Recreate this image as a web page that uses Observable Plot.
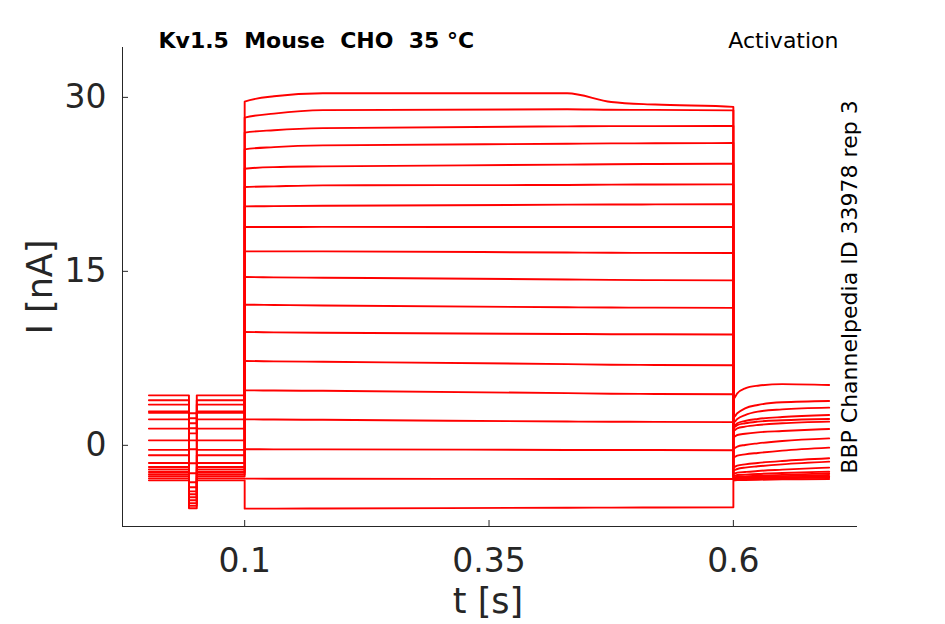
<!DOCTYPE html>
<html>
<head>
<meta charset="utf-8">
<script src="https://cdn.jsdelivr.net/npm/d3@7"></script>
<script src="https://cdn.jsdelivr.net/npm/@observablehq/plot@0.6"></script>
<style>
  body { margin: 0; background: #fff; }
  #chart { width: 945px; height: 624px; }
</style>
</head>
<body>
<div id="chart"></div>
<script>
// current traces (nA), one value per sweep (18 sweeps, highest step first)
// holding current and the short negative test pulse, 0 - 0.1 s
const hold  = [4.31, 3.88, 3.51, 2.93, 2.8, 2.24, 1.44, 0.43, -0.39, -0.86, -1.53, -1.87, -2.09, -2.3, -2.5, -2.67, -2.85, -3.02];
const pulse = [2.76, 2.33, 1.9, 1.47, 1.03, 0.43, -0.34, -1.55, -2.41, -3.19, -3.62, -3.97, -4.22, -4.48, -4.74, -5.0, -5.22, -5.43];

// activation step, 0.1 - 0.6 s
const step100 = [29.63, 28.25, 26.96, 25.52, 23.85, 22.27, 20.6, 18.82, 16.72, 14.51, 12.13, 9.77, 7.27, 4.74, 2.24, -0.34, -2.87, -5.46];
const step130 = [30.1, 28.6, 27.17, 25.71, 23.99, 22.33, 20.62, 18.82, 16.72, 14.48, 12.1, 9.74, 7.24, 4.72, 2.22, -0.35, -2.88, -5.46];
const step180 = [30.35, 28.9, 27.35, 25.86, 24.05, 22.41, 20.65, 18.83, 16.72, 14.45, 12.05, 9.7, 7.2, 4.7, 2.2, -0.35, -2.88, -5.45];
const step430 = [30.35, 28.97, 27.5, 26.0, 24.2, 22.45, 20.75, 18.82, 16.62, 14.3, 11.9, 9.6, 7.0, 4.5, 2.05, -0.4, -2.9, -5.38];
const step475 = [29.6, 28.93, 27.52, 26.03, 24.24, 22.48, 20.76, 18.82, 16.6, 14.26, 11.88, 9.58, 6.95, 4.45, 2.03, -0.41, -2.9, -5.37];
const step520 = [29.38, 28.92, 27.52, 26.04, 24.26, 22.49, 20.77, 18.82, 16.59, 14.24, 11.87, 9.57, 6.93, 4.43, 2.02, -0.41, -2.9, -5.36];
const step600 = [29.18, 28.88, 27.53, 26.06, 24.28, 22.5, 20.78, 18.82, 16.58, 14.22, 11.85, 9.55, 6.9, 4.4, 2.0, -0.42, -2.9, -5.35];

// tail currents, 0.6 - 0.7 s
const tail600 = [4.0, 2.4, 1.95, 1.65, 1.5, 1.25, 0.7, -0.3, -1.05, -1.9, -2.15, -2.45, -2.65, -2.78, -2.84, -2.9, -2.95, -3.05];
const tail604 = [4.48, 2.76, 2.27, 1.9, 1.75, 1.47, 0.89, -0.11, -0.89, -1.75, -2.04, -2.36, -2.56, -2.7, -2.78, -2.84, -2.9, -3.0];
const tail612 = [4.91, 3.19, 2.61, 2.1, 1.9, 1.61, 1.0, 0.03, -0.78, -1.64, -1.92, -2.3, -2.53, -2.68, -2.76, -2.83, -2.89, -2.99];
const tail625 = [5.14, 3.48, 2.9, 2.27, 2.04, 1.75, 1.12, 0.17, -0.66, -1.52, -1.81, -2.21, -2.47, -2.63, -2.72, -2.8, -2.87, -2.97];
const tail650 = [5.28, 3.71, 3.1, 2.44, 2.16, 1.9, 1.23, 0.37, -0.46, -1.35, -1.64, -2.1, -2.39, -2.55, -2.66, -2.76, -2.84, -2.94];
const tail698 = [5.2, 3.82, 3.25, 2.61, 2.27, 2.04, 1.41, 0.6, -0.2, -1.12, -1.41, -1.92, -2.27, -2.41, -2.56, -2.7, -2.79, -2.9];

// time (s) of each knot, and which current list belongs to it
const knotT = [0.002, 0.043, 0.043, 0.051, 0.051, 0.1, 0.1, 0.13, 0.18, 0.43, 0.475, 0.52, 0.6, 0.6, 0.604, 0.612, 0.625, 0.65, 0.698];
const knotI = [hold, hold, pulse, pulse, hold, hold, step100, step130, step180, step430, step475, step520, step600, tail600, tail604, tail612, tail625, tail650, tail698];

const xTicks = [0.1, 0.35, 0.6];
const yTicks = [0, 15, 30];
const xDomain = [-0.025, 0.727];
const yDomain = [-7, 34.3];

const title = "Kv1.5  Mouse  CHO  35 °C";
const protocol = "Activation";
const source = "BBP Channelpedia ID 33978 rep 3";
const xLabel = "t [s]";
const yLabel = "I [nA]";

const rows = hold.flatMap((_, k) => knotT.map((t, j) => ({sweep: k, t, i: knotI[j][k]})));

const ink = "#262626";

const chart = Plot.plot({
  width: 945,
  height: 624,
  marginLeft: 122,
  marginRight: 88,
  marginTop: 47,
  marginBottom: 98,
  style: {fontFamily: "DejaVu Sans", color: ink, background: "#fff"},
  x: {domain: xDomain},
  y: {domain: yDomain},
  marks: [
    Plot.ruleX([xDomain[0]], {stroke: ink}),
    Plot.ruleY([yDomain[0]], {stroke: ink}),
    Plot.tickX(xTicks, {x: d => d, insetTop: 473, stroke: ink}),
    Plot.tickY(yTicks, {y: d => d, insetRight: 729, stroke: ink}),
    Plot.axisX({ticks: xTicks, tickSize: 0, tickPadding: 22, tickFormat: d => String(d), fontSize: 33, label: null}),
    Plot.axisY({ticks: yTicks, tickSize: 0, tickPadding: 16, tickFormat: d => String(d), fontSize: 33, label: null}),
    Plot.line(rows, {x: "t", y: "i", z: "sweep", stroke: "#ff0000", strokeWidth: 1.9, curve: "monotone-x"}),
    Plot.text([title], {text: d => d, frameAnchor: "top-left", textAnchor: "start", lineAnchor: "middle", dx: 36, dy: -7, fontSize: 22, fontWeight: "bold", fill: "#000"}),
    Plot.text([protocol], {text: d => d, frameAnchor: "top-right", textAnchor: "end", lineAnchor: "middle", dx: -19, dy: -7, fontSize: 22, fill: "#000"}),
    Plot.text([source], {text: d => d, frameAnchor: "right", textAnchor: "middle", rotate: -90, lineAnchor: "middle", dx: -8, fontSize: 22, fill: "#000"}),
    Plot.text([yLabel], {text: d => d, frameAnchor: "left", textAnchor: "middle", rotate: -90, lineAnchor: "middle", dx: -82, fontSize: 35}),
    Plot.text([xLabel], {text: d => d, frameAnchor: "bottom", textAnchor: "middle", lineAnchor: "middle", dx: -2, dy: 75, fontSize: 35})
  ]
});

d3.select("#chart").append(() => chart);
</script>
</body>
</html>
